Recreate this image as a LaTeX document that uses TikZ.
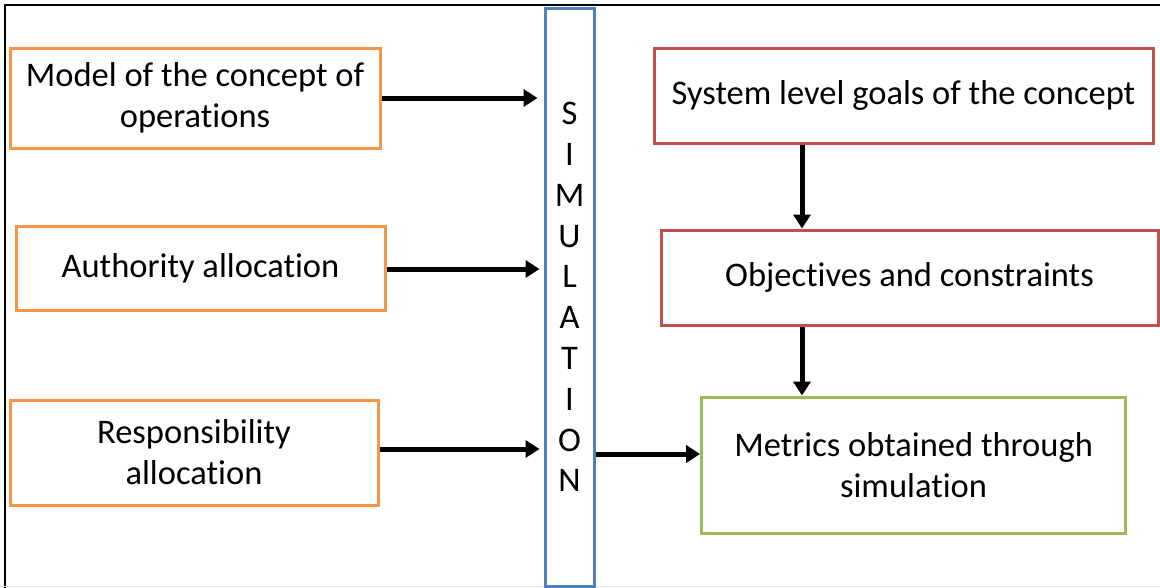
\documentclass[tikz,border=0pt]{standalone}
\usepackage{fontspec}
\setmainfont[Ligatures={NoCommon}]{Carlito}
\usetikzlibrary{arrows.meta}
\definecolor{oorange}{HTML}{F79646}
\definecolor{ored}{HTML}{C0504D}
\definecolor{ogreen}{HTML}{9BBB59}
\definecolor{oblue}{HTML}{4F81BD}
\begin{document}
\begin{tikzpicture}[x=1pt,y=-1pt,
  txt/.style={font=\fontsize{34.5}{41}\selectfont, align=center, inner sep=0pt},
  obox/.style={txt, draw=oorange, line width=3pt, fill=white},
  rbox/.style={txt, draw=ored, line width=3pt, fill=white},
  gbox/.style={txt, draw=ogreen, line width=3pt, fill=white},
  arr/.style={line width=5pt, -{Triangle[length=14pt,width=17pt]}}
]
\useasboundingbox (0,0) rectangle (1160,587);
\begin{scope}
\clip (0,0) rectangle (1160,587);
\draw[line width=2.5pt] (5,600) -- (5,5) -- (1170,5);
\draw[gray!20, line width=1pt] (0,586.5) -- (1160,586.5);
\end{scope}

\node[obox, minimum width=370pt, minimum height=100pt] (b1) at (195,98) {Model of the concept of\\operations};
\node[obox, minimum width=369pt, minimum height=84pt] (b2) at (200.5,268) {Authority allocation};
\node[obox, minimum width=368pt, minimum height=105pt] (b3) at (194,452.5) {Responsibility\\allocation};

\node[txt, draw=oblue, line width=3pt, minimum width=49pt, minimum height=578pt,
  font=\fontsize{34.5}{40.8}\selectfont] (sim) at (569.5,297) {S\\I\\M\\U\\L\\A\\T\\I\\O\\N};

\node[rbox, minimum width=499pt, minimum height=95pt] (r1) at (903.5,95.5) {System level goals of the concept};
\node[rbox, minimum width=497pt, minimum height=95pt] (r2) at (909.5,277.5) {Objectives and constraints};
\node[gbox, minimum width=424pt, minimum height=136pt] (g1) at (913.6,465) {Metrics obtained through\\simulation};

\draw[arr, shorten >=6pt] (b1.east |- 0,98) -- (sim.west |- 0,98);
\draw[arr, shorten >=4pt] (b2.east |- 0,269) -- (sim.west |- 0,269);
\draw[arr, shorten >=4pt] (b3.east |- 0,449) -- (sim.west |- 0,449);
\draw[arr] (sim.east |- 0,454) -- (g1.west |- 0,454);
\draw[arr] (r1.south -| 802,0) -- (r2.north -| 802,0);
\draw[arr] (r2.south -| 802,0) -- (g1.north -| 802,0);
\end{tikzpicture}
\end{document}
